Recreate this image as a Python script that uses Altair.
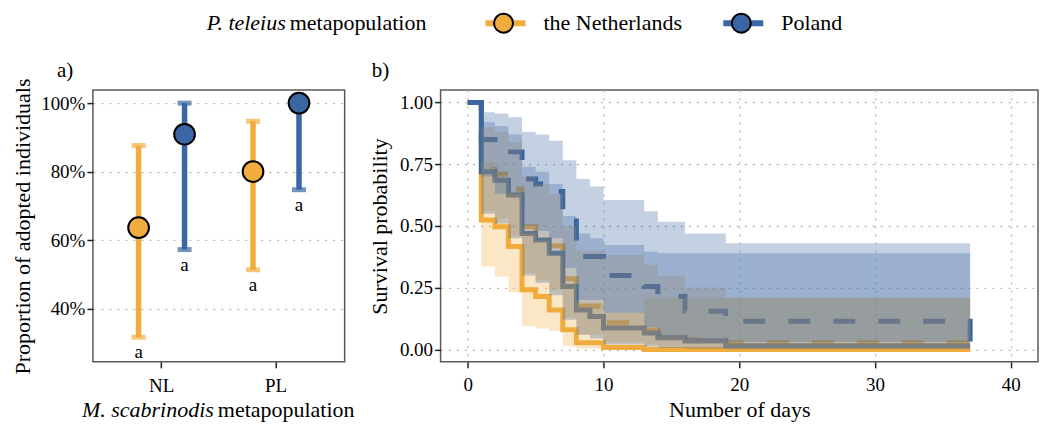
import altair as alt
import pandas as pd

FONT = "Liberation Serif"
ORANGE = "#F1AC3E"
BLUE = "#3A67A3"
LABEL_SIZE = 19
TITLE_SIZE = 22

# ---------------- panel a: adoption by ant metapopulation ----------------
ant_pop = ["NL", "NL", "PL", "PL"]
butterfly_pop = ["the Netherlands", "Poland", "the Netherlands", "Poland"]
adopted = [0.636, 0.909, 0.800, 1.000]
adopted_low = [0.316, 0.572, 0.513, 0.747]
adopted_high = [0.876, 1.000, 0.947, 1.000]
group_letter = ["a", "a", "a", "a"]

pops = ["the Netherlands", "Poland"]
pop_colors = [ORANGE, BLUE]

# ---------------- panel b: Kaplan-Meier survival ----------------
days = [0, 1, 2, 3, 4, 5, 6, 7, 8, 9, 10, 13, 14, 16, 19, 37]

# NL butterflies with NL ants (solid orange)
surv_nl_nl = [1, .524, .497, .417, .242, .215, .160, .080, .027, .027, .008, 0, 0, 0, 0, 0]
low_nl_nl = [1, .336, .296, .231, .094, .085, .075, .013, .003, .003, 0, 0, 0, 0, 0, 0]
high_nl_nl = [1, .76, .72, .64, .47, .44, .38, .27, .19, .19, .15, .21, .21, .21, .21, .21]

# NL butterflies with PL ants (dashed orange)
surv_nl_pl = [1, .73, .71, .65, .497, .46, .42, .286, .175, .175, .108, .078, .06, .04, .027, .027]
low_nl_pl = [1, .56, .53, .46, .31, .28, .24, .13, .06, .06, .03, .02, .012, .006, .003, .003]
high_nl_pl = [1, .90, .88, .84, .70, .67, .63, .50, .40, .40, .383, .343, .30, .25, .21, .21]

# PL butterflies with NL ants (solid blue)
surv_pl_nl = [1, .72, .685, .625, .47, .443, .39, .255, .16, .134, .087, .067, .048, .034, .015, .015]
low_pl_nl = [1, .55, .51, .45, .30, .27, .22, .12, .06, .045, .02, .012, .006, .003, .001, .001]
high_pl_nl = [1, .92, .905, .87, .74, .72, .67, .54, .47, .45, .423, .396, .39, .39, .39, .39]

# PL butterflies with PL ants (dashed blue)
surv_pl_pl = [1, .85, .80, .80, .69, .67, .64, .52, .376, .376, .30, .255, .215, .155, .114, 0]
low_pl_pl = [1, .70, .63, .63, .50, .48, .45, .33, .20, .20, .149, .09, .054, .04, .03, .03]
high_pl_pl = [1, .96, .955, .94, .88, .87, .845, .766, .69, .66, .605, .56, .517, .47, .43, .43]

curves = [
    ("the Netherlands", "NL", surv_nl_nl, low_nl_nl, high_nl_nl),
    ("the Netherlands", "PL", surv_nl_pl, low_nl_pl, high_nl_pl),
    ("Poland", "NL", surv_pl_nl, low_pl_nl, high_pl_nl),
    ("Poland", "PL", surv_pl_pl, low_pl_pl, high_pl_pl),
]

color_scale = alt.Scale(domain=pops, range=pop_colors)
one_row = pd.DataFrame({"k": [0]})

# ---------- panel a ----------
df_a = pd.DataFrame(dict(ant=ant_pop, butterfly=butterfly_pop, p=adopted,
                         lo=adopted_low, hi=adopted_high, letter=group_letter))

YT = "Proportion of adopted individuals"
x_a = alt.X("ant:N", title=None,
            scale=alt.Scale(paddingInner=0, paddingOuter=0.1),
            axis=alt.Axis(labelAngle=0, bandPosition=0.5, labelPadding=9))
xoff = alt.XOffset("butterfly:N", scale=alt.Scale(domain=pops, paddingInner=0, paddingOuter=0.245))
y_scale_a = alt.Scale(domain=[0.244, 1.038], nice=False, zero=False)
y_axis_a = alt.Axis(values=[0.4, 0.6, 0.8, 1.0], format=".0%", titlePadding=6)
col_a = alt.Color("butterfly:N", scale=color_scale, legend=None)

base_a = alt.Chart(df_a)
bars = base_a.mark_rule(strokeWidth=5.5).encode(
    x=x_a, xOffset=xoff,
    y=alt.Y("lo:Q", title=YT, scale=y_scale_a, axis=y_axis_a), y2="hi:Q", color=col_a)
cap_lo = base_a.mark_tick(thickness=5, size=14).encode(
    x=x_a, xOffset=xoff, y=alt.Y("lo:Q", title=YT), color=col_a)
cap_hi = base_a.mark_tick(thickness=5, size=14).encode(
    x=x_a, xOffset=xoff, y=alt.Y("hi:Q", title=YT), color=col_a)
pts = base_a.mark_circle(size=430, opacity=1, stroke="black", strokeWidth=2).encode(
    x=x_a, xOffset=xoff, y=alt.Y("p:Q", title=YT),
    fill=alt.Fill("butterfly:N", scale=color_scale, legend=None))
letters = base_a.mark_text(dy=15, baseline="middle", fontSize=LABEL_SIZE, font=FONT, color="black").encode(
    x=x_a, xOffset=xoff, y=alt.Y("lo:Q", title=YT), text="letter:N")

def label(txt, x, y, align="left", italic=False, size=TITLE_SIZE):
    return alt.Chart(one_row).mark_text(
        text=txt, align=align, baseline="middle", font=FONT, fontSize=size,
        fontStyle="italic" if italic else "normal", color="black"
    ).encode(x=alt.value(x), y=alt.value(y))

# x title with italic genus/species
xt_a = label("M. scabrinodis", 121, 320, align="right", italic=True) + \
       label("metapopulation", 125, 320, align="left")

# legend row above the panels
LY = -67
legend = (
    label("P. teleius", 193, LY, align="right", italic=True)
    + label("metapopulation", 197, LY)
    + alt.Chart(one_row).mark_rule(strokeWidth=6, color=ORANGE).encode(
        x=alt.value(393), x2=alt.value(433), y=alt.value(LY))
    + alt.Chart(one_row).mark_circle(size=360, opacity=1, color=ORANGE, stroke="black", strokeWidth=2).encode(
        x=alt.value(411), y=alt.value(LY))
    + label("the Netherlands", 451, LY)
    + alt.Chart(one_row).mark_rule(strokeWidth=6, color=BLUE).encode(
        x=alt.value(631), x2=alt.value(671), y=alt.value(LY))
    + alt.Chart(one_row).mark_circle(size=360, opacity=1, color=BLUE, stroke="black", strokeWidth=2).encode(
        x=alt.value(649), y=alt.value(LY))
    + label("Poland", 689, LY)
)

panel_a = alt.layer(
    bars, cap_lo, cap_hi, pts, letters, xt_a, legend, label("a)", -36, -19, size=21)
).properties(width=252, height=272)

# ---------- panel b ----------
rows = []
for bpop, apop, s, lo, hi in curves:
    for d, sv, l, h in zip(days, s, lo, hi):
        rows.append(dict(day=d, surv=sv, lo=l, hi=h, butterfly=bpop, ant=apop))
df_b = pd.DataFrame(rows)

x_b = alt.X("day:Q", title="Number of days",
            scale=alt.Scale(domain=[-2, 42], nice=False, zero=False),
            axis=alt.Axis(values=[0, 10, 20, 30, 40], labelPadding=8, titlePadding=5))
YB = "Survival probability"
y_scale_b = alt.Scale(domain=[-0.05, 1.05], nice=False, zero=False)
y_axis_b = alt.Axis(values=[0, 0.25, 0.5, 0.75, 1.0], format=".2f", titlePadding=8)
dash = alt.StrokeDash("ant:N", scale=alt.Scale(domain=["NL", "PL"], range=[[1, 0], [22, 23]]), legend=None)

layers_b = []
for bpop, apop, *_ in curves:
    sub = df_b[(df_b.butterfly == bpop) & (df_b.ant == apop)]
    layers_b.append(alt.Chart(sub).mark_line(
        interpolate="step-after", strokeWidth=5, strokeCap="butt", strokeJoin="miter").encode(
        x=x_b, y=alt.Y("surv:Q", title=YB, scale=y_scale_b, axis=y_axis_b),
        color=col_a, strokeDash=dash))
for bpop, apop, *_ in curves:
    sub = df_b[(df_b.butterfly == bpop) & (df_b.ant == apop)]
    layers_b.append(alt.Chart(sub).mark_area(interpolate="step-after", opacity=0.3).encode(
        x=x_b, y=alt.Y("lo:Q", title=YB), y2="hi:Q", color=col_a))

panel_b = alt.layer(*layers_b, label("b)", -69, -19, size=21)).properties(width=598, height=272)

chart = alt.hconcat(panel_a, panel_b, spacing=96, bounds="flush").properties(
    padding={"left": 10, "top": 8, "right": 5, "bottom": 5}
).configure_view(stroke="#5a5a5a", strokeWidth=1.5).configure_axis(
    labelFont=FONT, titleFont=FONT, labelFontSize=LABEL_SIZE, titleFontSize=TITLE_SIZE,
    titleFontWeight="normal", labelColor="black", titleColor="black",
    domain=False, tickColor="#222", tickWidth=1.5, tickSize=6,
    gridColor="#b8b8b8", gridDash=[2, 6], gridWidth=1.3
)

chart.save("out.html", embed_options={"renderer": "svg", "actions": False})
